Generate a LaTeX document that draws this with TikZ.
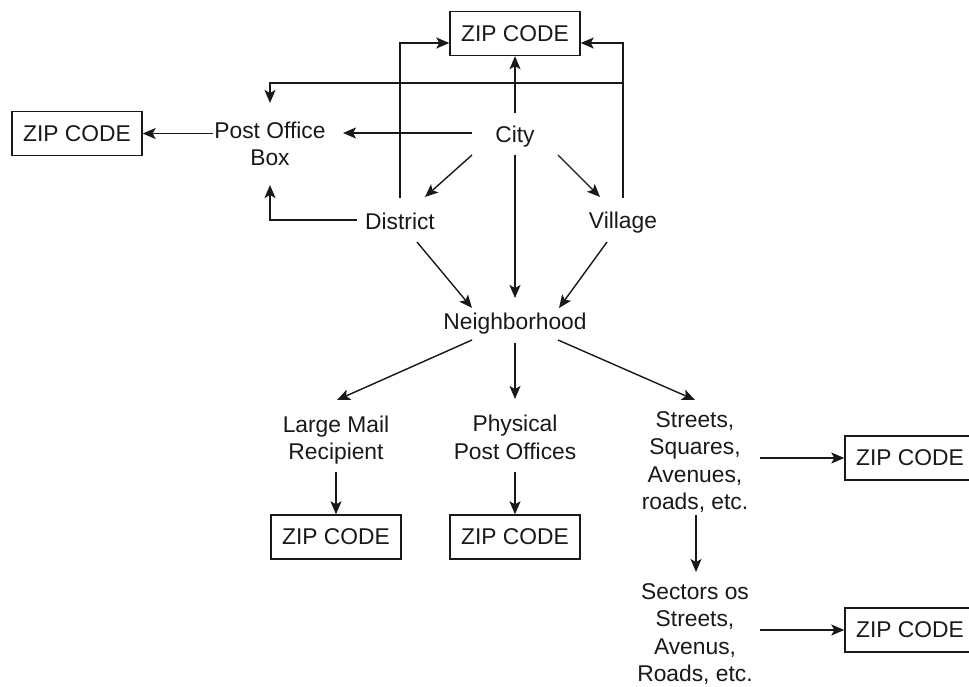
\documentclass[tikz,border=0pt]{standalone}
\usepackage{fontspec}
\setmainfont{Liberation Sans}
\usetikzlibrary{arrows.meta,calc}
\definecolor{ink}{RGB}{25,25,25}
\begin{document}
\begin{tikzpicture}[x=1pt,y=-1pt,
  line width=1.4pt, draw=ink,
  arr/.style={-{Stealth[length=13pt,width=11pt,inset=3pt]}},
  lbl/.style={inner sep=0pt, align=center, text=ink, font=\fontsize{22.8}{27.6}\selectfont},
  zip/.style={draw=ink, rectangle, minimum width=130pt, minimum height=44pt, inner sep=0pt, text=ink, font=\fontsize{22.8}{27.6}\selectfont}
]
\useasboundingbox (0,0) rectangle (969,686);
\fill[white] (0,0) rectangle (969,686);
\clip (0,0) rectangle (969,686);

% boxes
\node[zip] (zipT) at (515,33.5) {ZIP CODE};
\node[zip] (zipL) at (77,133.5) {ZIP CODE};
\node[zip] (zipLM) at (336,537) {ZIP CODE};
\node[zip] (zipPH) at (515,537) {ZIP CODE};
\node[zip] (zipSa) at (910,458) {ZIP CODE};
\node[zip] (zipSb) at (910,630) {ZIP CODE};

% text nodes
\node[lbl] (city) at (515,137) {City};
\node[lbl] (pob) at (270,144) {Post Office\\Box};
\node[lbl] (district) at (400,221) {District};
\node[lbl] (village) at (623,223) {Village};
\node[lbl] (neigh) at (515,324) {Neighborhood};
\node[lbl] (large) at (336,440) {Large Mail\\Recipient};
\node[lbl] (phys) at (515,437.5) {Physical\\Post Offices};
\node[lbl] (streets) at (695,462) {Streets,\\Squares,\\Avenues,\\roads, etc.};
\node[lbl] (sectors) at (695,634) {Sectors os\\Streets,\\Avenus,\\Roads, etc.};

% connectors
\draw[arr] ($(city)+(0,-24)$) -- (zipT.south);
\draw[arr] ($(city)+(-43,-4)$) -- ($(pob)+(73,-11)$);
\draw[arr] ($(pob)+(-57,-10.5)$) -- (zipL.east);
\draw[arr] ($(district)+(0,-23)$) |- ($(zipT.west)+(0,9.5)$);
\draw[arr] ($(village)+(0,-25)$) |- ($(zipT.east)+(0,9.5)$);
\draw[arr] ($(village)+(0,-25)$) -- ($(village)+(0,-140)$) -| ($(pob)+(0,-41)$);
\draw[arr] ($(district)+(-43,-1)$) -| ($(pob)+(0,41)$);
\draw[arr] ($(city)+(-43,18)$) -- ($(district)+(25,-24)$);
\draw[arr] ($(city)+(43,18)$) -- ($(village)+(-23,-26)$);
\draw[arr] ($(city)+(0,18)$) -- ($(neigh)+(0,-26)$);
\draw[arr] ($(district)+(17,21)$) -- ($(neigh)+(-43,-16)$);
\draw[arr] ($(village)+(-16,19)$) -- ($(neigh)+(44,-16)$);
\draw[arr] ($(neigh)+(-43,16)$) -- ($(large)+(1,-40)$);
\draw[arr] ($(neigh)+(0,19)$) -- ($(phys)+(0,-38.5)$);
\draw[arr] ($(neigh)+(43,16)$) -- ($(streets)+(0,-62)$);
\draw[arr] ($(large)+(0,32)$) -- (zipLM.north);
\draw[arr] ($(phys)+(0,34.5)$) -- (zipPH.north);
\draw[arr] ($(streets)+(65,-4)$) -- (zipSa.west);
\draw[arr] ($(streets)+(1,53)$) -- ($(sectors)+(1,-62)$);
\draw[arr] ($(sectors)+(65,-4)$) -- (zipSb.west);
\end{tikzpicture}
\end{document}
